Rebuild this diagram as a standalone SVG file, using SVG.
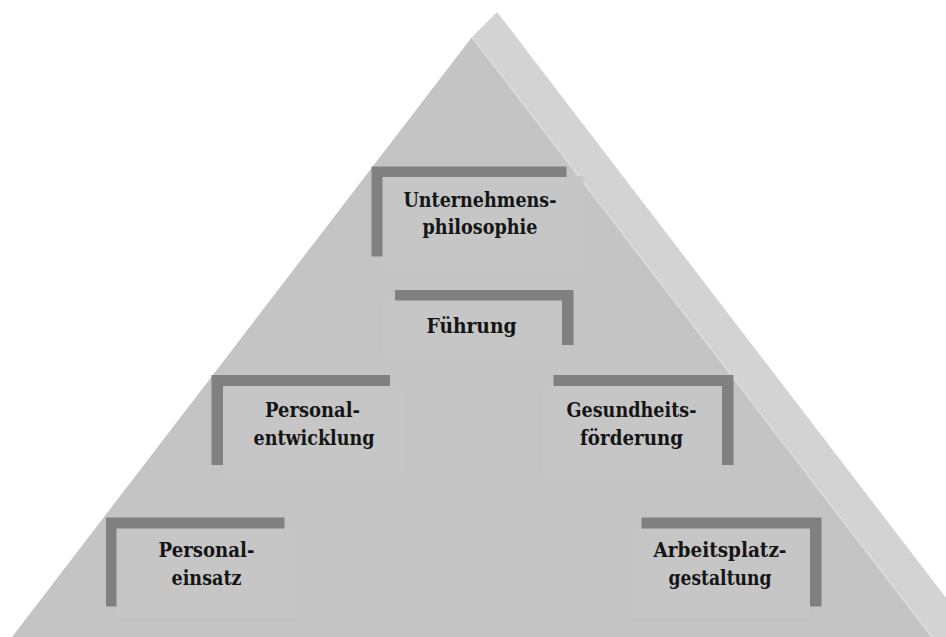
<svg xmlns="http://www.w3.org/2000/svg" width="946" height="637" viewBox="0 0 946 637">
<style>
.bar{fill:#808080}
.box{fill:#c6c6c6}
.lbl{font-family:'DejaVu Serif',serif;font-weight:bold;font-size:20px;fill:#151515;text-anchor:middle}
</style>
<rect width="946" height="637" fill="#ffffff"/>
<g id="pyramid">
<polygon points="472,37 497,12 976,637 932,637" fill="#d3d3d3"/>
<polygon points="472,37 932,637 12,637" fill="#c4c4c4"/>
<line x1="472" y1="37" x2="932" y2="637" stroke="#dddddd" stroke-width="1.5"/>
</g>
<g id="connectors"></g>
<g id="unternehmensphilosophie">
<rect class="box" x="382.5" y="176.5" width="201" height="92"/>
<path class="bar" d="M371.5,166.5 H566.5 V177 H382.5 V256.5 H371.5 Z"/>
<text class="lbl" x="480" y="206.5" textLength="153" lengthAdjust="spacingAndGlyphs">Unternehmens-</text>
<text class="lbl" x="480" y="234" textLength="115" lengthAdjust="spacingAndGlyphs">philosophie</text>
</g>
<g id="fuehrung">
<rect class="box" x="381.5" y="300" width="180" height="56.5"/>
<path class="bar" d="M395,290 H573.5 V345 H562 V300.5 H395 Z"/>
<text class="lbl" x="471.5" y="333" textLength="90" lengthAdjust="spacingAndGlyphs">Führung</text>
</g>
<g id="personalentwicklung">
<rect class="box" x="223.5" y="386" width="180" height="91"/>
<path class="bar" d="M211.5,375 H390 V386 H223 V465 H211.5 Z"/>
<text class="lbl" x="312.5" y="416.5" textLength="95" lengthAdjust="spacingAndGlyphs">Personal-</text>
<text class="lbl" x="314" y="445" textLength="121" lengthAdjust="spacingAndGlyphs">entwicklung</text>
</g>
<g id="gesundheitsfoerderung">
<rect class="box" x="543" y="386" width="179" height="91"/>
<path class="bar" d="M553.5,375 H733.5 V465 H722 V386 H553.5 Z"/>
<text class="lbl" x="631.5" y="416.5" textLength="130" lengthAdjust="spacingAndGlyphs">Gesundheits-</text>
<text class="lbl" x="631.5" y="445" textLength="103" lengthAdjust="spacingAndGlyphs">förderung</text>
</g>
<g id="personaleinsatz">
<rect class="box" x="116.5" y="528" width="180" height="90.5"/>
<path class="bar" d="M106,517.5 H284.5 V528.5 H116.5 V606.5 H106 Z"/>
<text class="lbl" x="206.5" y="556.5" textLength="96" lengthAdjust="spacingAndGlyphs">Personal-</text>
<text class="lbl" x="206.5" y="585" textLength="70" lengthAdjust="spacingAndGlyphs">einsatz</text>
</g>
<g id="arbeitsplatzgestaltung">
<rect class="box" x="631.5" y="528" width="178.5" height="90.5"/>
<path class="bar" d="M641.5,517.5 H821.5 V606.5 H810 V528.5 H641.5 Z"/>
<text class="lbl" x="720" y="556.5" textLength="133" lengthAdjust="spacingAndGlyphs">Arbeitsplatz-</text>
<text class="lbl" x="720" y="585" textLength="103" lengthAdjust="spacingAndGlyphs">gestaltung</text>
</g>
</svg>
